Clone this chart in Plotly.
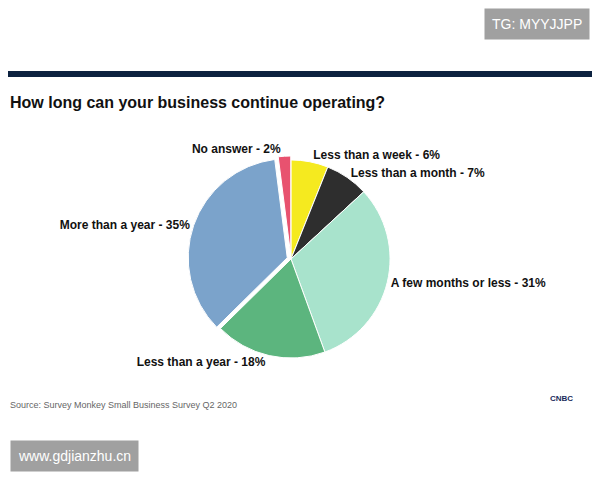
import plotly.graph_objects as go

labels = ["Less than a week", "Less than a month", "A few months or less",
          "Less than a year", "More than a year", "No answer"]
values = [6, 7, 31, 18, 35, 2]
colors = ["#f5ea1f", "#2e2e2e", "#a8e3cc", "#5cb57e", "#7ba3cb", "#e8526f"]
pull = [0, 0, 0, 0, 0.04, 0.04]

W, H = 584, 464  # page has 8px body margin


def px(x):
    return (x - 8) / W


def py(y):
    return 1 - (y - 8) / H


fig = go.Figure(go.Pie(
    labels=labels, values=values, sort=False, direction="clockwise", rotation=0,
    marker=dict(colors=colors, line=dict(color="white", width=1)),
    pull=pull,
    text=[f"<b>{l} - {v}%</b>" for l, v in zip(labels, values)],
    textinfo="text", textposition="outside",
    textfont=dict(family="Liberation Sans", size=12, color="#111"),
    domain=dict(x=[px(188), px(394)], y=[py(362), py(156)]),
    showlegend=False, hoverinfo="skip",
))

fig.update_layout(
    width=W, height=H, margin=dict(l=0, r=0, t=0, b=0),
    paper_bgcolor="white",
    shapes=[
        dict(type="rect", xref="paper", yref="paper", x0=0, x1=1, y0=py(77), y1=py(71),
             fillcolor="#0d2240", line_width=0, layer="below"),
    ],
    annotations=[
        dict(text="<b>How long can your business continue operating?</b>", x=px(8), y=py(102),
             xref="paper", yref="paper", xanchor="left", yanchor="middle", showarrow=False,
             font=dict(family="Liberation Sans", size=16, color="#111")),
        dict(text="Source: Survey Monkey Small Business Survey Q2 2020", x=px(8), y=py(405),
             xref="paper", yref="paper", xanchor="left", yanchor="middle", showarrow=False,
             font=dict(family="Liberation Sans", size=9, color="#666")),
        dict(text="TG: MYYJJPP", x=px(590), y=1, xref="paper", yref="paper",
             xanchor="right", yanchor="top", showarrow=False, bgcolor="#a0a0a0", borderpad=7,
             font=dict(family="Liberation Sans", size=14, color="white")),
        dict(text="www.gdjianzhu.cn", x=px(10), y=0, xref="paper", yref="paper",
             xanchor="left", yanchor="bottom", showarrow=False, bgcolor="#a0a0a0", borderpad=7,
             font=dict(family="Liberation Sans", size=14, color="white")),
        dict(text="<b>CNBC</b>", x=px(575), y=py(405), xref="paper", yref="paper",
             showarrow=False, font=dict(family="Liberation Sans", size=8, color="#1a2b5c")),
    ],
)

fig.write_html("out.html")
